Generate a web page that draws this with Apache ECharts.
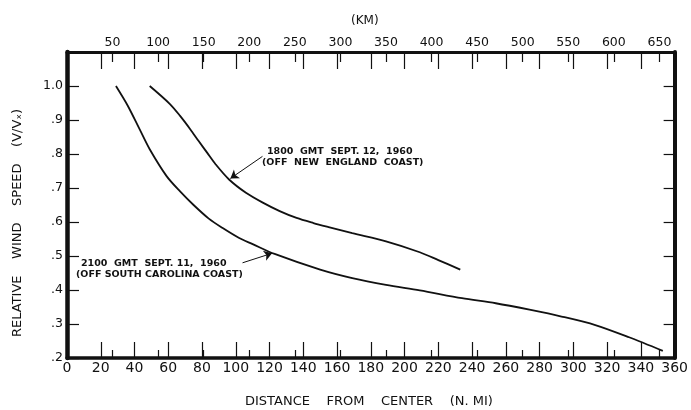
<!DOCTYPE html>
<html><head><meta charset="utf-8">
<script src="https://cdn.jsdelivr.net/npm/echarts@6/dist/echarts.min.js"></script>
<style>html,body{margin:0;padding:0;background:#fff}#c{width:691px;height:410px}</style>
</head><body><div id="c"></div>
<script>
// Distance in nautical miles (bottom axis) and relative wind speed V/Vx
const scNM = [29,36,43,49,59,67,75,84,92,102,110,123,150,169,189,209,234,254,274,293,313,333,353];
const scV  = [1.00,0.942,0.873,0.814,0.735,0.690,0.650,0.610,0.583,0.553,0.535,0.506,0.460,0.435,0.415,0.399,0.376,0.361,0.342,0.322,0.297,0.261,0.221];
const neNM = [49,61,67,73,78,83,88,96,106,116,126,136,146,155,169,189,209,220,233];
const neV  = [1.00,0.947,0.912,0.873,0.838,0.804,0.770,0.725,0.686,0.657,0.632,0.612,0.597,0.585,0.567,0.543,0.511,0.488,0.460];
const kmLabels = [50,100,150,200,250,300,350,400,450,500,550,600,650];
const nmLabels = [0,20,40,60,80,100,120,140,160,180,200,220,240,260,280,300,320,340,360];
const yLabels = ['.2','.3','.4','.5','.6','.7','.8','.9','1.0'];
const annNE = ['1800  GMT  SEPT. 12,  1960', '(OFF  NEW  ENGLAND  COAST)'];
const annSC = ['2100  GMT  SEPT. 11,  1960', '(OFF SOUTH CAROLINA COAST)'];
const KM_PER_NM = 1.852;

const pair = (xs, ys) => xs.map((x, i) => [x, ys[i]]);
const font = "'DejaVu Sans', sans-serif";
const black = '#111';

const chart = echarts.init(document.getElementById('c'), null, {renderer: 'canvas'});
const lineAxis = (w) => ({show: true, onZero: false, lineStyle: {color: black, width: w}});
const tick = (len) => ({show: true, inside: true, length: len, lineStyle: {color: black, width: 1.2}});
const option = {
  animation: false,
  backgroundColor: '#fff',
  grid: {left: 67, right: 15, top: 52, bottom: 52},
  xAxis: [
    {type: 'value', position: 'bottom', min: 0, max: 360, interval: 20,
     axisLine: lineAxis(3.5), splitLine: {show: false}, axisTick: tick(16),
     axisLabel: {color: black, fontFamily: font, fontSize: 14, margin: 3,
       formatter: v => nmLabels.indexOf(Math.round(v)) >= 0 ? String(Math.round(v)) : ''}},
    {type: 'value', position: 'bottom', min: 0, max: 360 * KM_PER_NM, interval: 50,
     axisLine: {show: false, onZero: false}, splitLine: {show: false}, axisTick: tick(8),
     axisLabel: {show: false}},
    {type: 'value', position: 'top', min: 0, max: 360 * KM_PER_NM, interval: 50,
     axisLine: lineAxis(3), splitLine: {show: false}, axisTick: tick(10),
     axisLabel: {color: black, fontFamily: font, fontSize: 12.5, margin: 3,
       formatter: v => kmLabels.indexOf(Math.round(v)) >= 0 ? String(Math.round(v)) : ''}},
    {type: 'value', position: 'top', min: 0, max: 360, interval: 20,
     axisLine: {show: false, onZero: false}, splitLine: {show: false}, axisTick: tick(17),
     axisLabel: {show: false}}
  ],
  yAxis: [
    {type: 'value', position: 'left', min: 0.2, max: 1.1, interval: 0.1,
     axisLine: lineAxis(4.5), splitLine: {show: false}, axisTick: tick(12),
     axisLabel: {color: black, fontFamily: font, fontSize: 12.5, margin: 4,
       formatter: v => yLabels[Math.round(v * 10) - 2] || ''}},
    {type: 'value', position: 'right', min: 0.2, max: 1.1, interval: 0.1,
     axisLine: lineAxis(4), splitLine: {show: false}, axisTick: tick(11),
     axisLabel: {show: false}}
  ],
  series: [
    {type: 'line', xAxisIndex: 0, yAxisIndex: 0, data: pair(neNM, neV), smooth: 0.3,
     showSymbol: false, lineStyle: {color: black, width: 1.8},
     markLine: {silent: true, symbol: ['none', 'arrow'], symbolSize: 8, label: {show: false},
       lineStyle: {color: black, width: 1, type: 'solid'},
       data: [[{coord: [115.8, 0.793]}, {coord: [96.8, 0.728]}]]}},
    {type: 'line', xAxisIndex: 0, yAxisIndex: 0, data: pair(scNM, scV), smooth: 0.3,
     showSymbol: false, lineStyle: {color: black, width: 1.8},
     markLine: {silent: true, symbol: ['none', 'arrow'], symbolSize: 8, label: {show: false},
       lineStyle: {color: black, width: 1, type: 'solid'},
       data: [[{coord: [104, 0.480]}, {coord: [121.5, 0.508]}]]}}
  ],
  graphic: [
    {type: 'text', left: 351, top: 15, style: {text: '(KM)', fill: black, font: '12px ' + font}},
    {type: 'text', left: 245, top: 395, style: {text: 'DISTANCE    FROM    CENTER    (N. MI)', fill: black, font: '13px ' + font}},
    {type: 'text', x: 11, y: 337, rotation: Math.PI / 2,
     style: {text: 'RELATIVE    WIND    SPEED    (V/Vₓ)', fill: black, font: '13px ' + font, verticalAlign: 'top'}},
    {type: 'text', left: 267, top: 147, style: {text: annNE[0], fill: black, font: 'bold 9.5px ' + font}},
    {type: 'text', left: 262, top: 158, style: {text: annNE[1], fill: black, font: 'bold 9.5px ' + font}},
    {type: 'text', left: 81, top: 259, style: {text: annSC[0], fill: black, font: 'bold 9.5px ' + font}},
    {type: 'text', left: 76, top: 270, style: {text: annSC[1], fill: black, font: 'bold 9.5px ' + font}}
  ]
};
chart.setOption(option);
</script>
</body></html>
